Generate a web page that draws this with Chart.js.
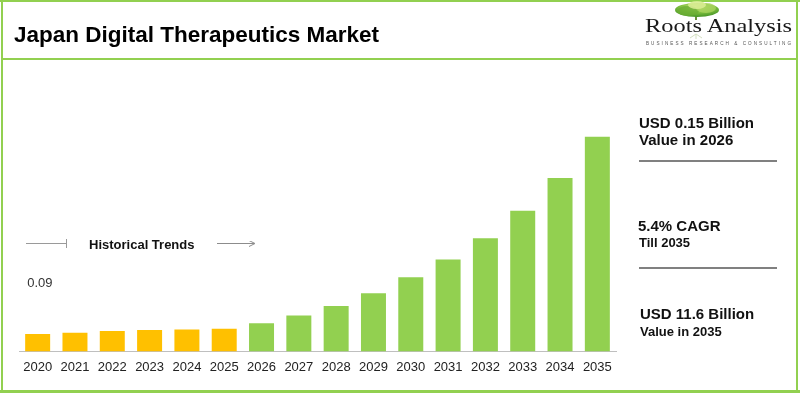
<!DOCTYPE html>
<html>
<head>
<meta charset="utf-8">
<script src="https://cdn.jsdelivr.net/npm/chart.js@4/dist/chart.umd.min.js"></script>
<style>
html,body{margin:0;padding:0;background:#fff;}
#wrap{position:relative;width:800px;height:393px;overflow:hidden;background:#fff;}
#c{position:absolute;left:0;top:0;}
#ov{position:absolute;left:0;top:0;pointer-events:none;}
</style>
</head>
<body>
<script>
// ---- data ----
const years = ["2020","2021","2022","2023","2024","2025","2026","2027","2028","2029","2030","2031","2032","2033","2034","2035"];
const historical = [0.090, 0.097, 0.106, 0.111, 0.114, 0.118, null, null, null, null, null, null, null, null, null, null];
const forecast   = [null, null, null, null, null, null, 0.146, 0.187, 0.236, 0.302, 0.385, 0.477, 0.588, 0.730, 0.900, 1.115];
const firstLabel = "0.09";
</script>
<div id="wrap">
<canvas id="c" width="800" height="393"></canvas>
<svg id="ov" width="800" height="393" xmlns="http://www.w3.org/2000/svg">
  <defs>
    <radialGradient id="tg" cx="50%" cy="30%" r="65%">
      <stop offset="0%" stop-color="#d6ea8c"/>
      <stop offset="60%" stop-color="#7fbf3f"/>
      <stop offset="100%" stop-color="#4e9a2a"/>
    </radialGradient>
    <marker id="ah" markerWidth="6" markerHeight="6" refX="5" refY="3" orient="auto">
      <path d="M0,0 L6,3 L0,6" fill="none" stroke="#8c8c8c" stroke-width="1"/>
    </marker>
  </defs>
  <!-- frame -->
  <rect x="1" y="0" width="2" height="393" fill="#92D050"/>
  <rect x="0" y="0" width="800" height="2" fill="#92D050"/>
  <rect x="796" y="0" width="2" height="393" fill="#92D050"/>
  <rect x="0" y="390" width="800" height="3" fill="#92D050"/>
  <rect x="2" y="58" width="795" height="2" fill="#92D050"/>
  <!-- title -->
  <text x="14" y="42" font-family="Liberation Sans, Arial, sans-serif" font-weight="bold" font-size="22.5" fill="#000">Japan Digital Therapeutics Market</text>
  <!-- logo -->
  <g>
    <path d="M696,20 L696,13" stroke="#6a8f3a" stroke-width="2"/>
    <ellipse cx="697" cy="10" rx="22" ry="7" fill="url(#tg)"/>
    <ellipse cx="688" cy="11" rx="11" ry="5" fill="#6cae34" opacity="0.8"/>
    <ellipse cx="706" cy="8" rx="10" ry="5" fill="#a9d35e" opacity="0.8"/>
    <ellipse cx="697" cy="5" rx="9" ry="4" fill="#d8ec92" opacity="0.9"/>
    <path d="M696,34 L690,38 M696,34 L702,38 M696,34 L696,39" stroke="#d3dfc0" stroke-width="1" fill="none"/>
  </g>
  <text x="645" y="32" font-family="Liberation Serif, Times New Roman, serif" font-size="18" fill="#1a1a1a" textLength="147" lengthAdjust="spacingAndGlyphs">Roots Analysis</text>
  <text x="646" y="44.5" font-family="Liberation Sans, Arial, sans-serif" font-size="4.6" fill="#555" textLength="145" lengthAdjust="spacing">BUSINESS RESEARCH &amp; CONSULTING</text>
  <!-- right panel -->
  <g font-family="Liberation Sans, Arial, sans-serif" font-weight="bold" fill="#111">
    <text x="639" y="127.5" font-size="15">USD 0.15 Billion</text>
    <text x="639" y="145" font-size="15">Value in 2026</text>
    <rect x="639" y="160" width="138" height="2" fill="#808080"/>
    <text x="638" y="231" font-size="15">5.4% CAGR</text>
    <text x="639" y="247" font-size="13">Till 2035</text>
    <rect x="639" y="267" width="138" height="2" fill="#808080"/>
    <text x="640" y="319" font-size="15">USD 11.6 Billion</text>
    <text x="640" y="336" font-size="13">Value in 2035</text>
  </g>
  <!-- historical trends annotation -->
  <line x1="26" y1="243.5" x2="67" y2="243.5" stroke="#9a9a9a" stroke-width="1"/>
  <line x1="66.5" y1="239" x2="66.5" y2="248" stroke="#9a9a9a" stroke-width="1"/>
  <text x="89" y="249" font-family="Liberation Sans, Arial, sans-serif" font-weight="bold" font-size="13" fill="#111">Historical Trends</text>
  <line x1="217" y1="243.5" x2="254" y2="243.5" stroke="#8c8c8c" stroke-width="1" marker-end="url(#ah)"/>
</svg>
</div>
<script>
const labelPlugin = {
  id: 'firstLabel',
  afterDatasetsDraw(chart) {
    const meta = chart.getDatasetMeta(0);
    const bar = meta.data[0];
    if (!bar) return;
    const ctx = chart.ctx;
    ctx.save();
    ctx.font = '13px "Liberation Sans", Arial, sans-serif';
    ctx.fillStyle = '#333';
    ctx.textAlign = 'left';
    ctx.textBaseline = 'alphabetic';
    ctx.fillText(firstLabel, bar.x - bar.width / 2 + 2, bar.y - 47);
    ctx.restore();
  }
};
new Chart(document.getElementById('c'), {
  type: 'bar',
  data: {
    labels: years,
    datasets: [
      { data: historical, backgroundColor: '#FFC000', barPercentage: 0.67, categoryPercentage: 1, skipNull: true },
      { data: forecast, backgroundColor: '#92D050', barPercentage: 0.67, categoryPercentage: 1, skipNull: true }
    ]
  },
  options: {
    responsive: false,
    animation: false,
    devicePixelRatio: 1,
    layout: { padding: { left: 19, right: 184, top: 60, bottom: 10 } },
    plugins: { legend: { display: false }, tooltip: { enabled: false } },
    datasets: { bar: { grouped: false } },
    scales: {
      x: {
        grid: { display: false, drawTicks: false },
        border: { display: true, color: '#bfbfbf', width: 1 },
        ticks: { color: '#222', font: { family: '"Liberation Sans", Arial, sans-serif', size: 13 }, padding: 8, maxRotation: 0, autoSkip: false }
      },
      y: { display: false, min: 0, max: 1.513 }
    }
  },
  plugins: [labelPlugin]
});
</script>
</body>
</html>
